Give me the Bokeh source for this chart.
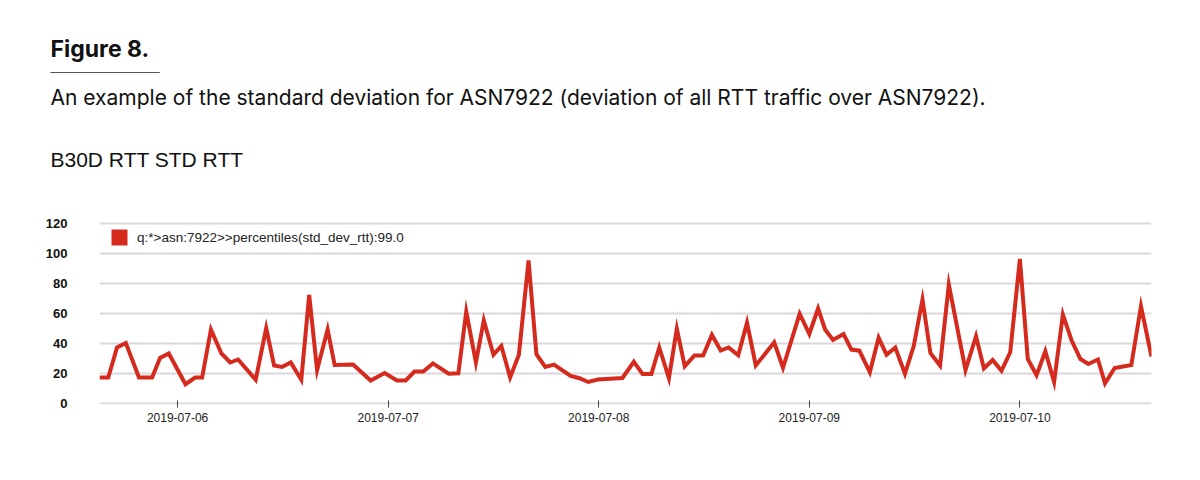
from datetime import datetime, timedelta

from bokeh.plotting import figure
from bokeh.models import (Range1d, DaysTicker, DatetimeTickFormatter, FixedTicker,
                          Legend, LegendItem, Label)
from bokeh.embed import file_html
from bokeh.resources import INLINE

# ---------------- data ----------------
figure_label = "Figure 8."
subtitle = "An example of the standard deviation for ASN7922 (deviation of all RTT traffic over ASN7922)."
chart_title = "B30D RTT STD RTT"
series_name = "q:*>asn:7922>>percentiles(std_dev_rtt):99.0"
y_ticks = [0, 20, 40, 60, 80, 100, 120]
base_time = datetime(2019, 7, 6, 0, 0)

# hours relative to 2019-07-06 00:00
hours = [-8.9, -7.9, -6.9, -5.9, -4.4, -2.9, -2.0, -1.0, 0.9, 2.0,
         2.8, 3.8, 5.0, 6.0, 6.9, 8.9, 10.1, 11.0, 11.9, 12.9,
         14.1, 15.0, 15.9, 17.1, 17.9, 20.0, 22.0, 23.6, 25.0, 26.0,
         27.0, 28.0, 29.1, 30.9, 32.0, 32.9, 34.0, 34.9, 36.0, 36.9,
         37.9, 38.9, 40.0, 40.9, 41.9, 42.9, 44.8, 45.8, 46.8, 47.9,
         50.7, 52.0, 53.0, 54.0, 54.9, 56.0, 56.9, 57.8, 58.9, 59.9,
         60.9, 61.9, 62.8, 63.9, 64.9, 65.9, 68.0, 69.0, 70.9, 72.0,
         73.0, 73.8, 74.7, 75.9, 76.8, 77.7, 78.9, 79.9, 80.8, 81.8,
         82.9, 83.9, 84.9, 85.8, 86.9, 87.9, 89.8, 91.0, 91.9, 92.9,
         93.9, 94.9, 96.0, 96.9, 97.9, 98.9, 99.9, 100.9, 101.9, 102.9,
         103.8, 104.9, 105.7, 106.8, 108.7, 109.8, 111.0]

std_dev_rtt = [17, 17, 37, 40, 17, 17, 30, 33, 12.5, 17,
               17, 49, 33, 27, 29, 15.5, 50, 25, 24, 27,
               15.5, 72, 22, 49, 25.3, 25.6, 15, 20, 15, 15,
               21, 21, 26.4, 19.5, 19.8, 61, 27, 55, 32.2, 38,
               17, 32.2, 95, 32.5, 24, 25.6, 18, 16.5, 14, 15.6,
               16.7, 27.5, 19.3, 19.3, 37, 16.5, 49.5, 24.5, 31.6, 31.6,
               45.5, 35, 37, 31.8, 53.5, 25, 40.5, 23.5, 59.5, 46,
               63, 49, 42, 46, 35.6, 34.9, 20.5, 43.5, 32.2, 37,
               19.5, 38, 69, 33.3, 25, 79, 22, 44.5, 23, 28.7,
               21.5, 33.8, 96, 29.3, 18.5, 34.5, 14, 59, 41.6, 29.3,
               26, 29, 13, 23.3, 25.3, 64.5, 30.9]

times = [base_time + timedelta(hours=h) for h in hours]

RED = "#d52b1e"
FONT = "Liberation Sans"
HFONT = "Inter"

FRAME_W, FRAME_H = 1052, 183

p = figure(frame_width=FRAME_W, frame_height=FRAME_H, x_axis_type="datetime",
           x_range=Range1d(times[0], times[-1]), y_range=Range1d(-1, 121),
           output_backend="svg", toolbar_location=None,
           min_border_left=99, min_border_right=41, min_border_top=221, min_border_bottom=58)
p.outline_line_color = None
p.background_fill_color = "white"

r = p.line(times, std_dev_rtt, line_color=RED, line_width=4, line_join="miter")
# zero-size quad only used to give the legend a filled square swatch
q = p.quad(left=times[:1], right=times[:1], top=std_dev_rtt[:1], bottom=std_dev_rtt[:1],
           fill_color=RED, line_color=None)

p.xgrid.visible = False
p.ygrid.ticker = FixedTicker(ticks=y_ticks)
p.ygrid.grid_line_color = "#d9d9dd"
p.ygrid.grid_line_width = 2

p.yaxis.ticker = FixedTicker(ticks=y_ticks)
p.yaxis.axis_line_color = None
p.yaxis.major_tick_line_color = None
p.yaxis.minor_tick_line_color = None
p.yaxis.major_label_standoff = 26
p.yaxis.major_label_text_font = FONT
p.yaxis.major_label_text_font_style = "bold"
p.yaxis.major_label_text_font_size = "13px"
p.yaxis.major_label_text_color = "#111111"

p.xaxis.ticker = DaysTicker(days=list(range(1, 32)))
p.xaxis.formatter = DatetimeTickFormatter(days="%Y-%m-%d", months="%Y-%m-%d", hours="%Y-%m-%d")
p.xaxis.axis_line_color = None
p.xaxis.major_tick_line_color = "#444444"
p.xaxis.major_tick_in = 4
p.xaxis.major_tick_out = 3
p.xaxis.minor_tick_line_color = None
p.xaxis.major_label_standoff = 5
p.xaxis.major_label_text_font = FONT
p.xaxis.major_label_text_font_size = "12px"
p.xaxis.major_label_text_color = "#222222"

legend = Legend(items=[LegendItem(label=series_name, renderers=[q])], location=(10, 157),
                padding=5, margin=0, spacing=0, glyph_width=20, glyph_height=20,
                label_standoff=8, label_text_font=FONT, label_text_font_size="13.5px",
                label_text_color="#222222", background_fill_alpha=0, border_line_color=None)
p.add_layout(legend)

# ---------------- header (side panel 'above', screen units) ----------------
# thin rule under "Figure 8.": blank label whose horizontally padded background forms the line
p.add_layout(Label(x=-49, y=149, x_units="screen", y_units="screen", text=" ",
                   text_font_size="1px", text_baseline="middle", padding=(54, 55, 0, 0),
                   background_fill_color="#555555", background_fill_alpha=1,
                   border_line_color=None), "above")
p.add_layout(Label(x=-49, y=61.2, x_units="screen", y_units="screen", text=chart_title,
                   text_font=FONT, text_font_size="21px",
                   text_baseline="alphabetic", text_color="#111111"), "above")
p.add_layout(Label(x=-49, y=100, x_units="screen", y_units="screen", text=subtitle,
                   text_font=HFONT, text_font_size="21px",
                   text_baseline="alphabetic", text_color="#111111"), "above")
p.add_layout(Label(x=-49, y=123.3, x_units="screen", y_units="screen", text=figure_label,
                   text_font=HFONT, text_font_style="bold", text_font_size="23px",
                   text_baseline="alphabetic", text_color="#111111"), "above")

open("out.html", "w").write(file_html(p, INLINE))
